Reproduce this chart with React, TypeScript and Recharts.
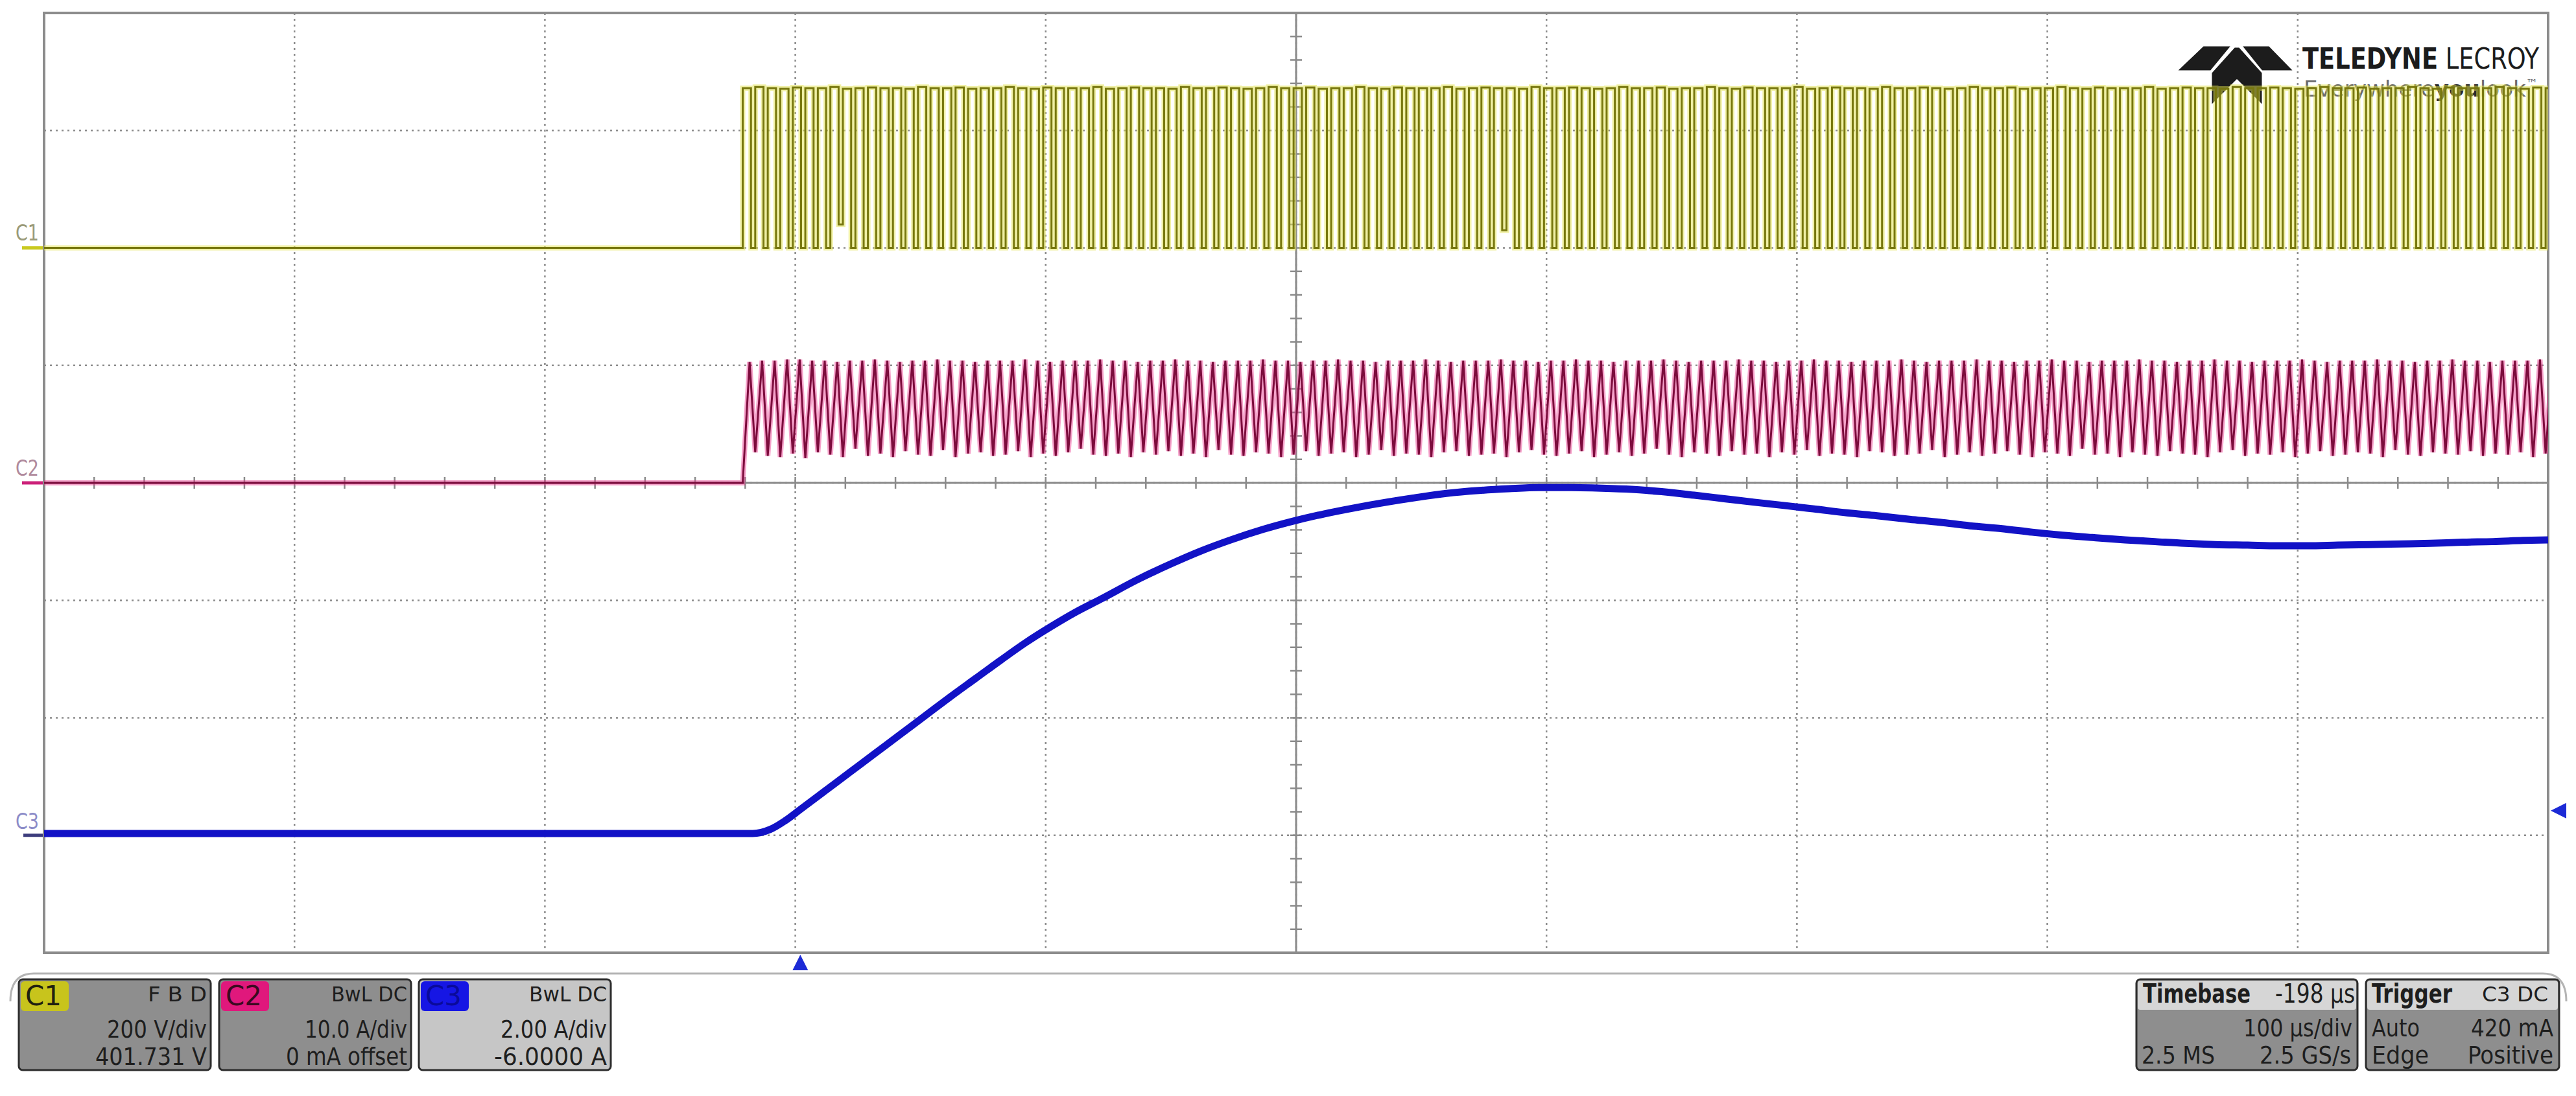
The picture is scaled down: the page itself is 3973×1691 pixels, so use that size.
import React from 'react';
import { LineChart, Line, XAxis, YAxis, CartesianGrid } from 'recharts';

// Screen: 10 div x 100 us, trigger at t = 0 (timebase delay -198 us)
const timeTicks = [-302, -202, -102, -2, 98, 198, 298, 398, 498, 598, 698];
const divTicks = [-4, -3, -2, -1, 0, 1, 2, 3, 4];

// channel scale (unit/div) and ground marker position (div)
const c1Scale = 200;
const c1Zero = 2;
const c2Scale = 10;
const c2Zero = 0;
const c3Scale = 2;
const c3Zero = -3;
const triggerLevel = 0.42; // A on C3

// switching timing (us)
const switchStart = -23;
const switchPeriod = 5;
const c1OnTime = 3.3;
const c2RiseTime = 2.75;

// C1 (V): level of each switching cycle while high / low
const c1High = [
  272, 274, 272, 271, 273, 272, 272, 274, 271, 272, 273, 272, 272, 271, 274,
  272, 272, 273, 271, 272, 272, 274, 272, 271, 273, 272, 272, 272, 274, 271,
  272, 273, 272, 272, 271, 274, 272, 272, 273, 272, 271, 272, 274, 272, 272,
  273, 271, 272, 272, 274, 272, 271, 273, 272, 272, 272, 274, 271, 272, 273,
  272, 272, 271, 274, 272, 272, 273, 272, 271, 272, 274, 272, 272, 273, 271,
  272, 272, 274, 272, 271, 273, 272, 272, 272, 274, 271, 272, 273, 272, 272,
  271, 274, 272, 272, 273, 272, 271, 272, 274, 272, 272, 273, 271, 272, 272,
  274, 272, 271, 273, 272, 272, 272, 274, 271, 272, 273, 272, 272, 271, 274,
  272, 272, 273, 272, 271, 272, 274, 272, 272, 273, 271, 272, 272, 274, 272,
  271, 273, 272, 272, 272, 274, 272, 271, 273, 272,
];
const c1Low = [
  0, 0, 0, 0, 0, 0, 0, 40, 0, 0, 0, 0, 0, 0, 0,
  0, 0, 0, 0, 0, 0, 0, 0, 0, 0, 0, 0, 0, 0, 0,
  0, 0, 0, 0, 0, 0, 0, 0, 0, 0, 0, 0, 0, 0, 0,
  0, 0, 0, 0, 0, 0, 0, 0, 0, 0, 0, 0, 0, 0, 0,
  30, 0, 0, 0, 0, 0, 0, 0, 0, 0, 0, 0, 0, 0, 0,
  0, 0, 0, 0, 0, 0, 0, 0, 0, 0, 0, 0, 0, 0, 0,
  0, 0, 0, 0, 0, 0, 0, 0, 0, 0, 0, 0, 0, 0, 0,
  0, 0, 0, 0, 0, 0, 0, 0, 0, 0, 0, 0, 0, 0, 0,
  0, 0, 0, 0, 0, 0, 0, 0, 0, 0, 0, 0, 0, 0, 0,
  0, 0, 0, 0, 0, 0, 0, 0, 0, 0,
];

// C2 (A): peak and valley of each cycle
const c2Peaks = [
  10.3, 10.4, 10.4, 10.5, 10.5, 10.4, 10.4, 10.3, 10.4, 10.4,
  10.5, 10.4, 10.3, 10.4, 10.4, 10.5, 10.4, 10.4, 10.3, 10.4,
  10.4, 10.4, 10.5, 10.4, 10.3, 10.4, 10.4, 10.4, 10.5, 10.4,
  10.4, 10.3, 10.4, 10.4, 10.5, 10.4, 10.4, 10.3, 10.4, 10.4,
  10.4, 10.5, 10.4, 10.4, 10.3, 10.4, 10.4, 10.5, 10.4, 10.4,
  10.3, 10.4, 10.4, 10.4, 10.5, 10.4, 10.3, 10.4, 10.4, 10.4,
  10.5, 10.4, 10.4, 10.3, 10.4, 10.4, 10.5, 10.4, 10.4, 10.3,
  10.4, 10.4, 10.4, 10.5, 10.4, 10.3, 10.4, 10.4, 10.4, 10.5,
  10.4, 10.4, 10.3, 10.4, 10.4, 10.5, 10.4, 10.4, 10.3, 10.4,
  10.4, 10.4, 10.5, 10.4, 10.3, 10.4, 10.4, 10.4, 10.5, 10.4,
  10.4, 10.3, 10.4, 10.4, 10.5, 10.4, 10.4, 10.3, 10.4, 10.4,
  10.4, 10.5, 10.4, 10.4, 10.3, 10.4, 10.4, 10.5, 10.4, 10.4,
  10.3, 10.4, 10.4, 10.4, 10.5, 10.4, 10.3, 10.4, 10.4, 10.4,
  10.5, 10.4, 10.4, 10.3, 10.4, 10.4, 10.5, 10.4, 10.4, 10.3,
  10.4, 10.4, 10.4, 10.5, 10.4,
];
const c2Valleys = [
  2.6, 2.3, 2.2, 2.5, 2.1, 2.6, 2.4, 2.2, 2.9, 2.3,
  2.5, 2.2, 2.7, 2.4, 2.3, 2.8, 2.2, 2.5, 2.6, 2.3,
  2.4, 2.7, 2.2, 2.5, 2.3, 2.6, 2.9, 2.4, 2.3, 2.5,
  2.2, 2.6, 2.4, 2.7, 2.3, 2.5, 2.2, 2.8, 2.4, 2.3,
  2.6, 2.5, 2.2, 2.4, 2.7, 2.3, 2.5, 2.6, 2.2, 2.4,
  2.8, 2.3, 2.5, 2.4, 2.2, 2.6, 2.7, 2.3, 2.4, 2.5,
  2.2, 2.6, 2.8, 2.4, 2.3, 2.5, 2.7, 2.2, 2.4, 2.6,
  2.3, 2.5, 2.9, 2.4, 2.2, 2.6, 2.5, 2.3, 2.7, 2.4,
  2.5, 2.2, 2.6, 2.4, 2.8, 2.3, 2.5, 2.4, 2.2, 2.7,
  2.6, 2.3, 2.4, 2.5, 2.8, 2.2, 2.4, 2.6, 2.3, 2.5,
  2.7, 2.4, 2.2, 2.6, 2.5, 2.3, 2.9, 2.4, 2.5, 2.2,
  2.6, 2.4, 2.3, 2.7, 2.5, 2.4, 2.2, 2.6, 2.8, 2.3,
  2.5, 2.4, 2.6, 2.2, 2.5, 2.7, 2.3, 2.4, 2.6, 2.5,
  2.2, 2.8, 2.4, 2.3, 2.6, 2.5, 2.4, 2.7, 2.3, 2.5,
  2.4, 2.6, 2.2, 2.5, 2.4,
];

// C3 (A): current ramp
const c3Time = [
  -302, -19, -12, -6, 0, 10, 20, 30, 40, 50, 60, 70, 80, 90, 100, 110, 120,
  135, 148, 160, 172, 185, 197, 209, 222, 234, 246, 258, 271, 283, 295, 308,
  320, 332, 344, 357, 369, 381, 394, 406, 418, 430, 443, 455, 467, 480, 492,
  504, 516, 529, 541, 553, 565, 578, 590, 602, 614, 627, 639, 651, 664, 676,
  688, 698,
];
const c3Amps = [
  0.03, 0.03, 0.1, 0.25, 0.44, 0.76, 1.08, 1.4, 1.72, 2.04, 2.36, 2.67, 2.98,
  3.28, 3.55, 3.8, 4.02, 4.36, 4.62, 4.84, 5.03, 5.21, 5.35, 5.47, 5.58, 5.67,
  5.75, 5.82, 5.87, 5.9, 5.92, 5.92, 5.91, 5.89, 5.85, 5.79, 5.73, 5.67, 5.61,
  5.55, 5.49, 5.44, 5.38, 5.33, 5.27, 5.22, 5.16, 5.11, 5.07, 5.03, 5.0, 4.97,
  4.95, 4.94, 4.93, 4.93, 4.94, 4.95, 4.96, 4.97, 4.99, 5.0, 5.02, 5.03,
];

const T_MIN = timeTicks[0];
const T_MAX = timeTicks[timeTicks.length - 1];

// tables in screen divisions
const c1Data: { t: number; v: number }[] = [{ t: T_MIN, v: c1Zero }];
c1High.forEach((h, i) => {
  const t0 = switchStart + i * switchPeriod;
  c1Data.push({ t: t0, v: c1Zero + h / c1Scale });
  c1Data.push({ t: t0 + c1OnTime, v: c1Zero + c1Low[i] / c1Scale });
});

const c2Data: { t: number; v: number }[] = [
  { t: T_MIN, v: c2Zero },
  { t: switchStart, v: c2Zero },
];
c2Peaks.forEach((p, i) => {
  const t0 = switchStart + i * switchPeriod;
  c2Data.push({ t: t0 + c2RiseTime, v: c2Zero + p / c2Scale });
  c2Data.push({ t: t0 + switchPeriod, v: c2Zero + c2Valleys[i] / c2Scale });
});

const c3Data = c3Time.map((t, i) => ({ t, v: c3Zero + c3Amps[i] / c3Scale }));

const W = 3973;
const H = 1691;
const PLOT = { left: 68, top: 20, width: 3862, height: 1450 };
const divX = PLOT.width / 10;
const divY = PLOT.height / 8;
const cx = PLOT.left + PLOT.width / 2;
const cy = PLOT.top + PLOT.height / 2;
const xOf = (t: number) => PLOT.left + ((t - T_MIN) / (T_MAX - T_MIN)) * PLOT.width;
const yOf = (d: number) => cy - d * divY;

const FONT = '"Liberation Sans Narrow", "Arial Narrow", "DejaVu Sans Condensed", "Liberation Sans", sans-serif';

function T(props: {
  x: number; y: number; size: number; len?: number; anchor?: 'start' | 'end';
  weight?: number; fill?: string; children: React.ReactNode;
}) {
  const { x, y, size, len, anchor = 'start', weight = 400, fill = '#1e1e1e', children } = props;
  return (
    <text x={x} y={y} fontSize={size} fontFamily={FONT} fontWeight={weight} fill={fill}
      textAnchor={anchor} textLength={len} lengthAdjust="spacingAndGlyphs">
      {children}
    </text>
  );
}

function ChannelBox(props: {
  x: number; fill: string; tag: string; tagFill: string; tagText: string;
  top: string; topLen: number; mid: string; midLen: number; low: string; lowLen: number;
}) {
  const { x, fill, tag, tagFill, tagText, top, topLen, mid, midLen, low, lowLen } = props;
  const r = x + 290;
  return (
    <g>
      <rect x={x} y={1511} width={296} height={140} rx={6} fill={fill} stroke="#2c2c2c" strokeWidth={3} />
      <rect x={x + 3} y={1514} width={74} height={46} rx={6} fill={tagFill} />
      <T x={x + 10} y={1551} size={42} len={56} fill={tagText}>{tag}</T>
      <T x={r} y={1545} size={32} len={topLen} anchor="end">{top}</T>
      <T x={r} y={1601} size={38} len={midLen} anchor="end">{mid}</T>
      <T x={r} y={1643} size={38} len={lowLen} anchor="end">{low}</T>
    </g>
  );
}

function Backdrop() {
  const hTicks = [];
  for (let i = -25; i <= 25; i++) {
    const x = cx + (i * divX) / 5;
    hTicks.push(<line key={'h' + i} x1={x} x2={x} y1={cy - 9} y2={cy + 9} stroke="#8a8a8a" strokeWidth={2.5} />);
  }
  const vTicks = [];
  for (let j = -20; j <= 20; j++) {
    const y = cy + (j * divY) / 5;
    vTicks.push(<line key={'v' + j} x1={cx - 9} x2={cx + 9} y1={y} y2={y} stroke="#8a8a8a" strokeWidth={2.5} />);
  }
  const trigX = xOf(0);
  const trigY = yOf(c3Zero + triggerLevel / c3Scale);
  const bottom = PLOT.top + PLOT.height;
  const right = PLOT.left + PLOT.width;
  return (
    <svg width={W} height={H} style={{ position: 'absolute', left: 0, top: 0 }}>
      <rect x={0} y={0} width={W} height={H} fill="#ffffff" />
      {/* graticule centre axes */}
      <line x1={PLOT.left} x2={right} y1={cy} y2={cy} stroke="#8a8a8a" strokeWidth={3} />
      <line x1={cx} x2={cx} y1={PLOT.top} y2={bottom} stroke="#8a8a8a" strokeWidth={3} />
      {hTicks}
      {vTicks}
      <rect x={PLOT.left} y={PLOT.top} width={PLOT.width} height={PLOT.height} fill="none" stroke="#8c8c8c" strokeWidth={4} />

      {/* channel ground markers */}
      <T x={24} y={371} size={34} len={36} fill="#9a9a78">C1</T>
      <line x1={34} x2={PLOT.left - 2} y1={yOf(c1Zero)} y2={yOf(c1Zero)} stroke="#c9c91e" strokeWidth={5} />
      <T x={24} y={734} size={34} len={36} fill="#b08a9c">C2</T>
      <line x1={34} x2={PLOT.left - 2} y1={yOf(c2Zero)} y2={yOf(c2Zero)} stroke="#cc2079" strokeWidth={5} />
      <T x={24} y={1279} size={34} len={36} fill="#8c8cc8">C3</T>
      <line x1={36} x2={PLOT.left - 2} y1={yOf(c3Zero)} y2={yOf(c3Zero)} stroke="#3c3c7c" strokeWidth={5} />

      {/* trigger markers */}
      <polygon points={`${trigX},${bottom + 3} ${trigX - 12},${bottom + 27} ${trigX + 12},${bottom + 27}`} fill="#1c2ad6" />
      <polygon points={`${right + 4},${trigY} ${right + 28},${trigY - 12} ${right + 28},${trigY + 12}`} fill="#1c2ad6" />

      {/* logo */}
      <g fill="#1c1c1c" stroke="#ffffff" strokeWidth={3}>
        <polygon points="3356,110 3398,70 3443,70 3410,110" />
        <polygon points="3456,70 3500,70 3539,110 3488,110" />
        <polygon points="3446,72 3454,72 3490,112 3490,164 3450,124 3410,164 3410,112" />
      </g>
      <text x={3551} y={106} fontSize={44} fontFamily={FONT} fill="#1c1c1c" textLength={365} lengthAdjust="spacingAndGlyphs">
        <tspan fontWeight={700}>TELEDYNE</tspan> LECROY
      </text>
      <text x={3553} y={149} fontSize={34} fontFamily={FONT} fill="#6a6a6a" textLength={361} lengthAdjust="spacingAndGlyphs">
        Everywhere<tspan fontWeight={700} fill="#2a2a2a">you</tspan>look<tspan fontSize={18} dy={-14}>™</tspan>
      </text>

      {/* info panel */}
      <path d="M 16 1545 Q 16 1502 52 1502 L 3922 1502 Q 3958 1502 3958 1545" fill="none" stroke="#b4b4b4" strokeWidth={3} />
      <ChannelBox x={29} fill="#8e8e8e" tag="C1" tagFill="#c8c41c" tagText="#202010"
        top="F  B  D" topLen={91} mid="200 V/div" midLen={154} low="401.731 V" lowLen={172} />
      <ChannelBox x={338} fill="#8e8e8e" tag="C2" tagFill="#e0187c" tagText="#3a0a20"
        top="BwL  DC" topLen={117} mid="10.0 A/div" midLen={158} low="0 mA offset" lowLen={187} />
      <ChannelBox x={646} fill="#c6c6c6" tag="C3" tagFill="#1616e4" tagText="#0a0a9a"
        top="BwL  DC" topLen={120} mid="2.00 A/div" midLen={164} low="-6.0000 A" lowLen={174} />

      <rect x={3295} y={1511} width={341} height={140} rx={6} fill="#8e8e8e" stroke="#2c2c2c" strokeWidth={3} />
      <rect x={3297} y={1513} width={337} height={45} rx={4} fill="#d6d6d6" />
      <T x={3305} y={1547} size={40} len={166} weight={700}>Timebase</T>
      <T x={3632} y={1547} size={40} len={123} anchor="end">-198 µs</T>
      <T x={3628} y={1599} size={38} len={168} anchor="end">100 µs/div</T>
      <T x={3303} y={1641} size={38} len={113}>2.5 MS</T>
      <T x={3626} y={1641} size={38} len={141} anchor="end">2.5 GS/s</T>

      <rect x={3649} y={1511} width={298} height={140} rx={6} fill="#8e8e8e" stroke="#2c2c2c" strokeWidth={3} />
      <rect x={3651} y={1513} width={294} height={45} rx={4} fill="#d6d6d6" />
      <T x={3658} y={1547} size={40} len={124} weight={700}>Trigger</T>
      <T x={3930} y={1545} size={32} len={102} anchor="end">C3  DC</T>
      <T x={3658} y={1599} size={38} len={74}>Auto</T>
      <T x={3938} y={1599} size={38} len={127} anchor="end">420 mA</T>
      <T x={3658} y={1641} size={38} len={88}>Edge</T>
      <T x={3938} y={1641} size={38} len={132} anchor="end">Positive</T>
    </svg>
  );
}

export default function App() {
  return (
    <div style={{ position: 'absolute', left: 0, top: 0, width: W, height: H, overflow: 'hidden' }}>
      <Backdrop />
      <div style={{ position: 'absolute', left: 0, top: 0 }}>
        <LineChart
          width={W}
          height={H}
          margin={{
            top: PLOT.top,
            left: PLOT.left,
            right: W - PLOT.left - PLOT.width,
            bottom: H - PLOT.top - PLOT.height,
          }}
        >
          <CartesianGrid stroke="#8c8c8c" strokeWidth={2.5} strokeDasharray="3 6" />
          <XAxis type="number" dataKey="t" domain={[T_MIN, T_MAX]} ticks={timeTicks} hide allowDataOverflow />
          <YAxis type="number" domain={[-4, 4]} ticks={divTicks} hide allowDataOverflow />
          <Line data={c1Data} dataKey="v" type="stepAfter" stroke="#e2e24a" strokeOpacity={0.5} strokeWidth={8} dot={false} isAnimationActive={false} />
          <Line data={c1Data} dataKey="v" type="stepAfter" stroke="#77770e" strokeWidth={3} dot={false} isAnimationActive={false} />
          <Line data={c2Data} dataKey="v" type="linear" stroke="#e8308a" strokeOpacity={0.45} strokeWidth={8} dot={false} isAnimationActive={false} />
          <Line data={c2Data} dataKey="v" type="linear" stroke="#7c0c3c" strokeWidth={3} dot={false} isAnimationActive={false} />
          <Line data={c3Data} dataKey="v" type="monotone" stroke="#1212c6" strokeWidth={11} dot={false} isAnimationActive={false} />
        </LineChart>
      </div>
    </div>
  );
}
